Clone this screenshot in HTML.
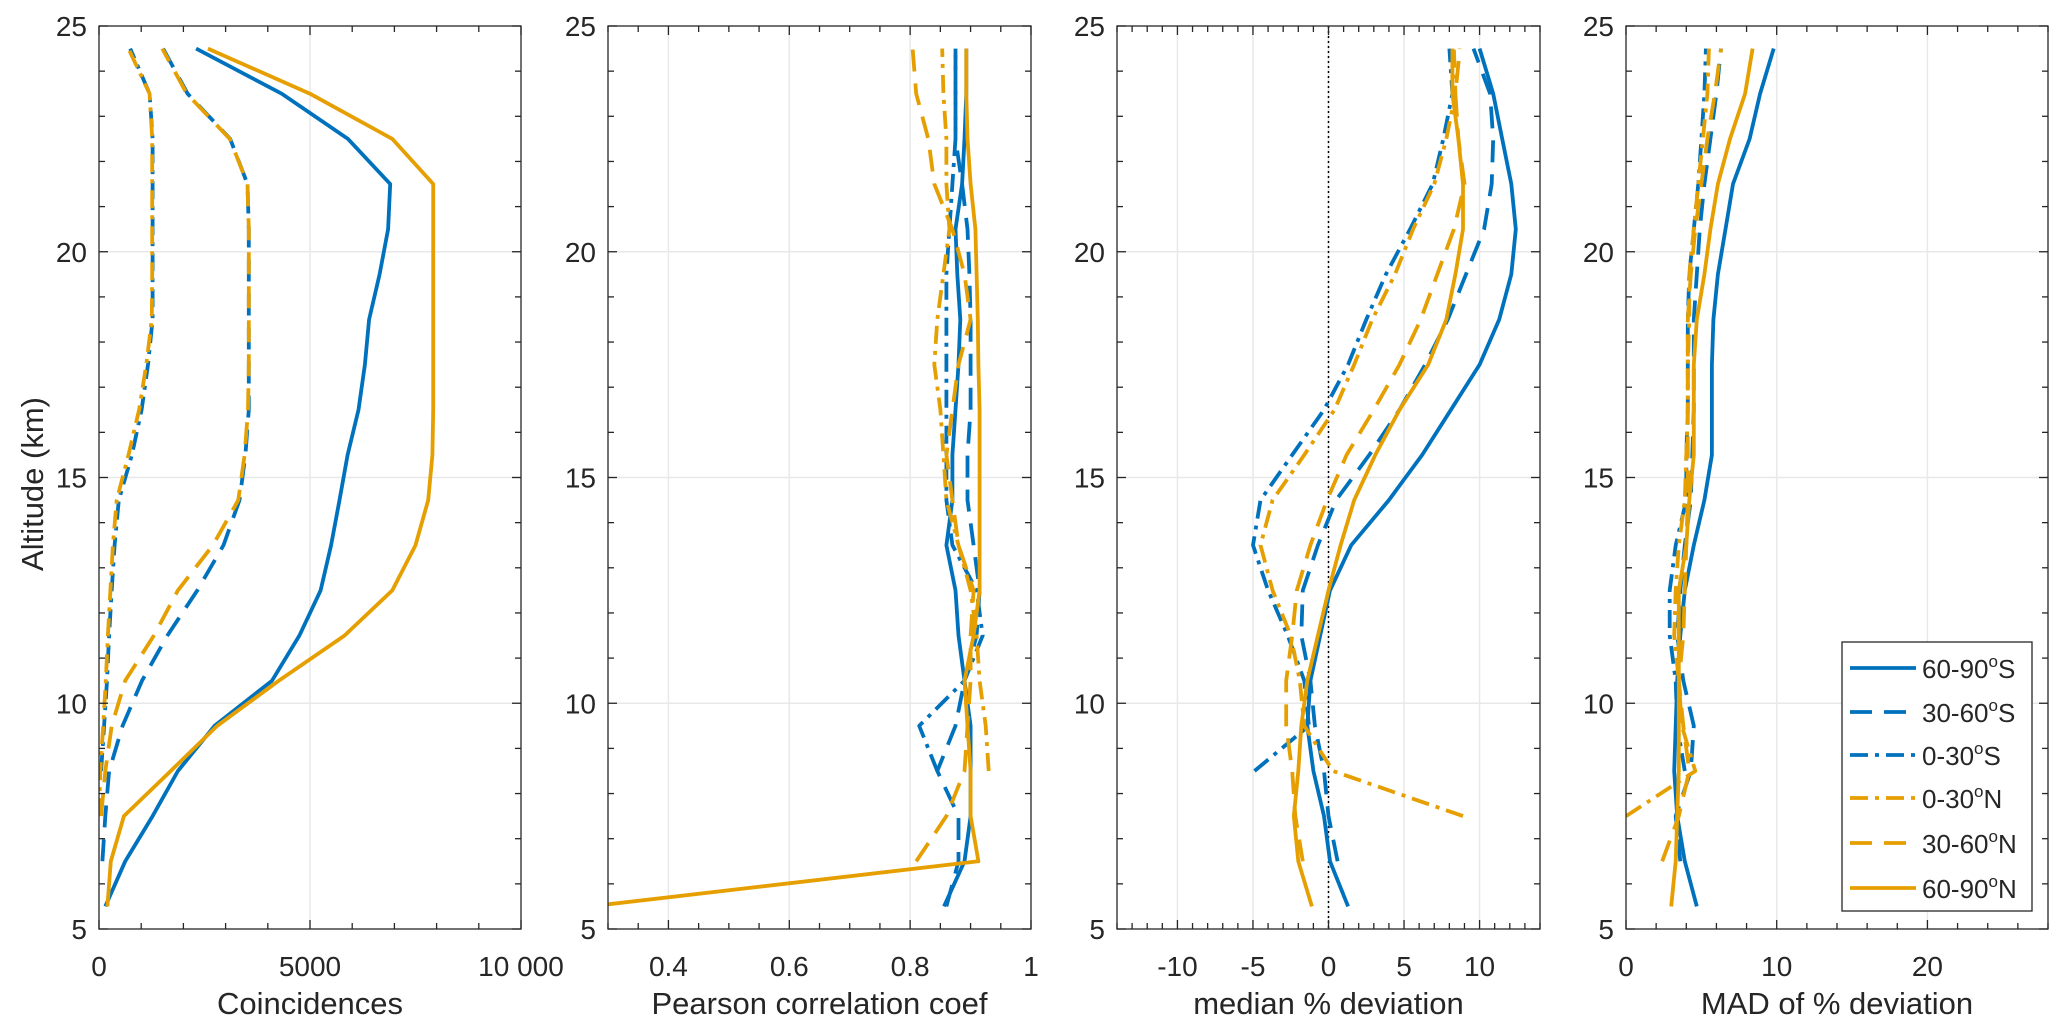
<!DOCTYPE html>
<html><head><meta charset="utf-8"><style>
html,body{margin:0;padding:0;background:#fff;}
svg{display:block;font-family:"Liberation Sans",Arial,sans-serif;}
</style></head><body>
<svg id="fig" width="2067" height="1031" viewBox="0 0 2067 1031" xmlns="http://www.w3.org/2000/svg"></svg>
<script>
const altitudes=[5.5,6.5,7.5,8.5,9.5,10.5,11.5,12.5,13.5,14.5,15.5,16.5,17.5,18.5,19.5,20.5,21.5,22.5,23.5,24.5];
const seriesNames=['60-90S','30-60S','0-30S','0-30N','30-60N','60-90N'];
const legendLabels=['60-90','30-60','0-30','0-30','30-60','60-90'];
const legendHemis=['S','S','S','N','N','N'];
// Panel 1: Coincidences
const c_6090S=[150,620,1270,1870,2740,4100,4750,5250,5500,5700,5890,6150,6300,6400,6650,6850,6900,5900,4330,2300];
const c_3060S=[null,80,150,240,560,1020,1620,2330,2950,3330,3470,3550,3550,3550,3550,3550,3520,3110,2100,1520];
const c_030S=[null,null,null,50,120,190,240,300,370,470,780,1010,1160,1270,1270,1270,1270,1270,1200,740];
const c_030N=[null,null,0,30,100,160,210,270,330,420,700,950,1120,1250,1260,1260,1260,1260,1200,700];
const c_3060N=[null,null,50,150,300,620,1300,1870,2700,3300,3450,3530,3550,3550,3550,3550,3520,3100,2080,1500];
const c_6090N=[200,280,590,1700,2800,4260,5820,6950,7500,7800,7900,7920,7920,7920,7920,7920,7920,6950,5000,2580];
// Panel 2: Pearson
const p_6090S=[0.856,0.89,0.9,0.9,0.9,0.89,0.88,0.875,0.86,0.87,0.87,0.875,0.88,0.883,0.878,0.875,0.886,0.89,0.893,0.893];
const p_3060S=[0.86,0.88,0.88,0.845,0.875,0.89,0.91,0.915,0.905,0.895,0.895,0.9,0.9,0.9,0.898,0.895,0.886,0.875,0.875,0.875];
const p_030S=[null,null,null,0.845,0.815,0.89,0.92,0.91,0.87,0.86,0.86,0.86,0.86,0.86,0.86,0.865,0.87,0.875,0.875,0.875];
const p_030N=[null,null,null,0.93,0.925,0.915,0.91,0.9,0.88,0.86,0.855,0.85,0.84,0.845,0.855,0.865,0.86,0.86,0.855,0.853];
const p_3060N=[null,0.81,0.86,0.89,0.895,0.9,0.9,0.905,0.88,0.87,0.86,0.87,0.88,0.9,0.89,0.87,0.84,0.83,0.81,0.804];
const p_6090N=[0.27,0.913,0.9,0.9,0.895,0.89,0.905,0.915,0.915,0.915,0.915,0.915,0.913,0.912,0.91,0.908,0.9,0.895,0.893,0.893];
// Panel 3: median % deviation
const m_6090S=[1.3,0.1,-0.3,-1.0,-1.4,-1.2,-0.55,0.1,1.5,4.0,6.2,8.1,10.0,11.3,12.1,12.4,12.1,11.5,10.9,10.0];
const m_3060S=[null,0.6,0,-0.3,-0.9,-1.2,-1.8,-1.7,-0.7,0.5,2.7,4.7,6.4,7.9,9.1,10.3,10.8,10.9,10.7,9.6];
const m_030S=[null,null,null,-4.9,-1.3,-1.6,-2.7,-4.0,-5.0,-4.5,-2.4,-0.3,1.3,2.5,3.8,5.4,6.9,7.6,8.2,8.0];
const m_030N=[null,null,8.9,0.3,-1.6,-1.9,-2.5,-3.7,-4.5,-3.7,-1.6,0.4,1.7,2.9,4.4,5.6,7.0,7.8,8.4,8.3];
const m_3060N=[null,-1.7,-2.2,-2.4,-2.8,-2.8,-2.4,-2.1,-1.2,-0.1,1.2,3.0,4.7,6.1,7.2,8.3,9.0,8.6,8.4,8.7];
const m_6090N=[-1.1,-2.0,-2.3,-2.0,-1.8,-1.4,-0.7,0,0.8,1.7,3.1,4.7,6.6,7.8,8.4,8.9,8.9,8.6,8.2,8.2];
// Panel 4: MAD
const d_6090S=[4.7,3.9,3.4,3.2,3.3,3.4,3.6,3.9,4.5,5.2,5.7,5.7,5.7,5.8,6.1,6.6,7.1,8.2,8.9,9.8];
const d_3060S=[null,3.6,3.3,4.3,4.5,3.8,3.4,3.6,3.9,4.3,4.4,4.5,4.5,4.5,4.7,4.9,5.2,5.6,6.0,6.3];
const d_030S=[null,null,null,3.9,3.4,3.3,2.9,2.9,3.3,4.0,4.0,4.1,4.1,4.1,4.2,4.5,4.8,5.0,5.2,5.3];
const d_030N=[null,null,0,4.6,3.7,3.5,3.2,3.3,3.5,3.9,4.0,4.1,4.1,4.2,4.2,4.5,4.8,5.1,5.4,5.5];
const d_3060N=[null,2.4,3.5,4.2,3.8,3.5,3.8,3.9,4.0,4.1,4.1,4.1,4.1,4.1,4.3,4.6,5.0,5.4,5.9,6.3];
const d_6090N=[3.0,3.3,3.4,3.5,3.5,3.5,3.5,3.5,4.0,4.2,4.5,4.5,4.5,4.7,5.2,5.6,6.1,6.9,7.9,8.4];
// Tick labels
const ticks1=[0,5000,10000]; const tickLabels1=['0','5000','10 000'];
const ticks2=[0.4,0.6,0.8,1]; const tickLabels2=['0.4','0.6','0.8','1'];
const ticks3=[-10,-5,0,5,10]; const tickLabels3=['-10','-5','0','5','10'];
const ticks4=[0,10,20]; const tickLabels4=['0','10','20'];
const yTicks=[5,10,15,20,25];
const xTitles=['Coincidences','Pearson correlation coef','median % deviation','MAD of % deviation'];

const NS='http://www.w3.org/2000/svg';
const svg=document.getElementById('fig');
const colors=['#0072BD','#0072BD','#0072BD','#E69F00','#E69F00','#E69F00'];
const dashes=['none','22,12','18,7,4,7','18,7,4,7','22,12','none'];
const Y0=26,Y1=929;
function yScale(a){return Y0+(25-a)*(Y1-Y0)/20;}
function mk(tag,attrs,parent){const e=document.createElementNS(NS,tag);for(const k in attrs)e.setAttribute(k,attrs[k]);(parent||svg).appendChild(e);return e;}
const panels=[
 {x0:99,x1:521,min:0,max:10000,minor:1000,ticks:ticks1,labels:tickLabels1,data:[c_6090S,c_3060S,c_030S,c_030N,c_3060N,c_6090N],key:'coincidences'},
 {x0:608,x1:1031,min:0.3,max:1,minor:0.05,ticks:ticks2,labels:tickLabels2,data:[p_6090S,p_3060S,p_030S,p_030N,p_3060N,p_6090N],key:'pearson'},
 {x0:1117,x1:1540,min:-14,max:14,minor:1,ticks:ticks3,labels:tickLabels3,data:[m_6090S,m_3060S,m_030S,m_030N,m_3060N,m_6090N],key:'median'},
 {x0:1626,x1:2048,min:0,max:28,minor:2,ticks:ticks4,labels:tickLabels4,data:[d_6090S,d_3060S,d_030S,d_030N,d_3060N,d_6090N],key:'mad'}
];
const defs=mk('defs',{});
panels.forEach((P,pi)=>{
 const xs=v=>P.x0+(v-P.min)*(P.x1-P.x0)/(P.max-P.min);
 const g=mk('g',{});
 
 
 P.ticks.forEach(t=>{if(t>P.min&&t<P.max){const l=mk('line',{x1:xs(t),x2:xs(t),y1:Y0,y2:Y1,stroke:'#e8e8e8','stroke-width':1.5},g);}});
 [10,15,20].forEach(t=>{const l=mk('line',{x1:P.x0,x2:P.x1,y1:yScale(t),y2:yScale(t),stroke:'#e8e8e8','stroke-width':1.5},g);});
 if(pi===2){const z=mk('line',{x1:xs(0),x2:xs(0),y1:Y0,y2:Y1,stroke:'#000','stroke-width':1.5,'stroke-dasharray':'2,3'},g);}
 const cp=mk('clipPath',{id:'clip'+pi},defs);mk('rect',{x:P.x0,y:Y0,width:P.x1-P.x0,height:Y1-Y0},cp);
 const sg=mk('g',{'clip-path':'url(#clip'+pi+')'},g);
 P.data.forEach((arr,si)=>{
  let d='';let started=false;
  arr.forEach((v,i)=>{if(v===null){started=false;return;}d+=(started?'L':'M')+xs(v).toFixed(1)+','+yScale(altitudes[i]).toFixed(1);started=true;});
  const p=mk('path',{d:d,fill:'none',stroke:colors[si],'stroke-width':3.8,'stroke-linejoin':'round'},sg);
  if(dashes[si]!=='none')p.setAttribute('stroke-dasharray',dashes[si]);
  
  
 });
 const box=mk('rect',{x:P.x0,y:Y0,width:P.x1-P.x0,height:Y1-Y0,fill:'none',stroke:'#262626','stroke-width':1.3},g);
 
 const nMin=Math.round((P.max-P.min)/P.minor);
 for(let k=0;k<=nMin;k++){const v=P.min+k*P.minor;const isMaj=P.ticks.some(t=>Math.abs(t-v)<1e-9);const L=isMaj?9:6;const x=xs(v);
  mk('line',{x1:x,x2:x,y1:Y1,y2:Y1-L,stroke:'#262626','stroke-width':1.3},g);mk('line',{x1:x,x2:x,y1:Y0,y2:Y0+L,stroke:'#262626','stroke-width':1.3},g);}
 for(let a=5;a<=25;a++){const isMaj=a%5===0;const L=isMaj?9:6;const y=yScale(a);
  mk('line',{x1:P.x0,x2:P.x0+L,y1:y,y2:y,stroke:'#262626','stroke-width':1.3},g);mk('line',{x1:P.x1,x2:P.x1-L,y1:y,y2:y,stroke:'#262626','stroke-width':1.3},g);}
 P.ticks.forEach((t,i)=>{const tx=mk('text',{x:xs(t),y:976,'text-anchor':'middle','font-size':28,fill:'#262626'},g);tx.textContent=P.labels[i];});
 yTicks.forEach(t=>{const tx=mk('text',{x:P.x0-12,y:yScale(t)+10,'text-anchor':'end','font-size':28,fill:'#262626'},g);tx.textContent=String(t);});
 const tt=mk('text',{x:(P.x0+P.x1)/2,y:1014,'text-anchor':'middle','font-size':31,fill:'#262626'},g);
 tt.textContent=xTitles[pi];
 
 
});
const yt=mk('text',{x:0,y:0,'text-anchor':'middle','font-size':31,fill:'#262626',transform:'translate(43,484) rotate(-90)'});
yt.textContent='Altitude (km)';


const lg=mk('g',{});


mk('rect',{x:1842,y:642,width:190,height:269,fill:'#fff',stroke:'#262626','stroke-width':1.3},lg);
const legY=[668,712,755,798,843,888];
seriesNames.forEach((n,i)=>{
 const eg=mk('g',{},lg);
 
 
 const l=mk('line',{x1:1850,x2:1916,y1:legY[i],y2:legY[i],stroke:colors[i],'stroke-width':3.8},eg);
 if(dashes[i]!=='none')l.setAttribute('stroke-dasharray',dashes[i]);
 const t=mk('text',{x:1922,y:legY[i]+10,'font-size':26,fill:'#262626'},eg);
 t.appendChild(document.createTextNode(legendLabels[i]));
 const s=mk('tspan',{dy:-11,'font-size':17},t);s.textContent='o';
 const h=mk('tspan',{dy:11,'font-size':26},t);h.textContent=legendHemis[i];
});
</script>
</body></html>
